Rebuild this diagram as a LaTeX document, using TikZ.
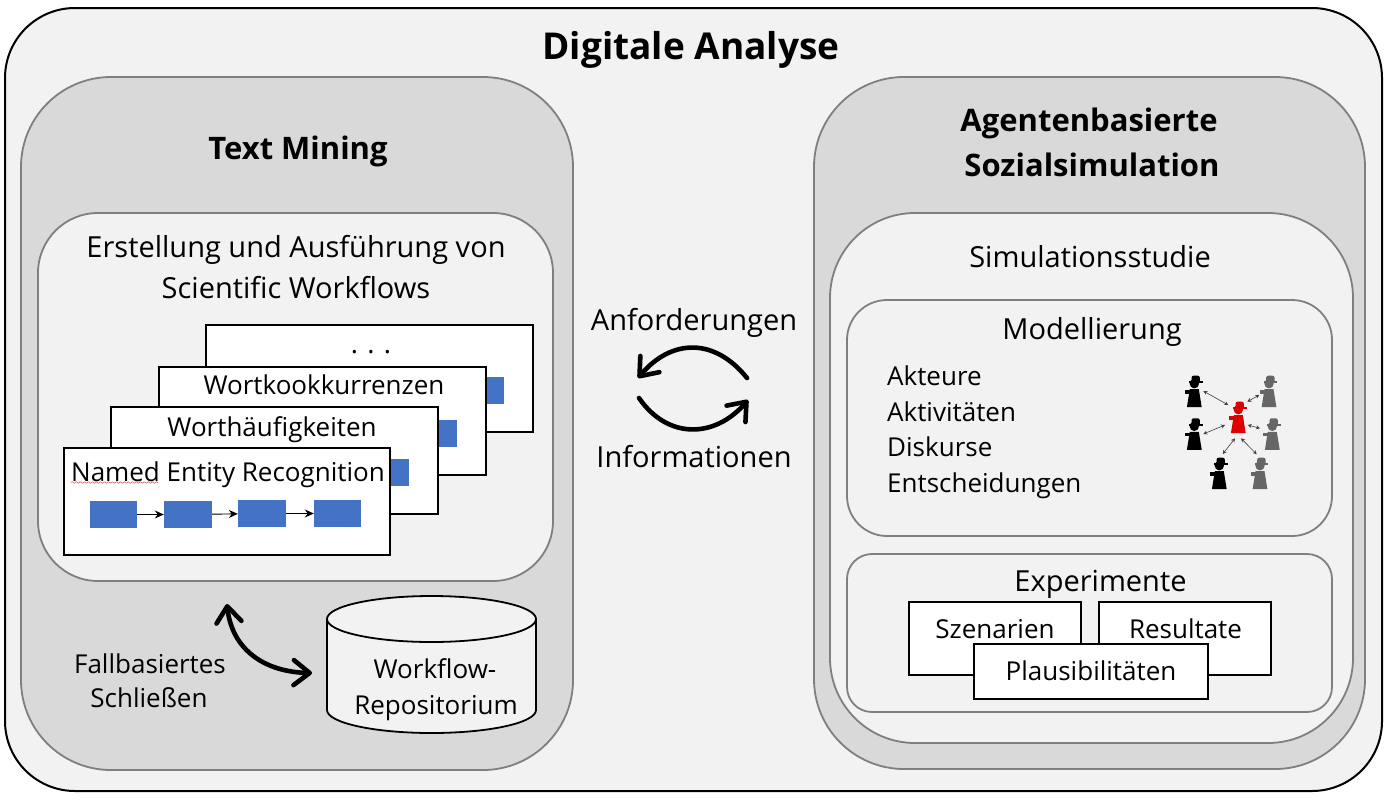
\documentclass[tikz,border=0pt]{standalone}
\usepackage{fontspec}
\setmainfont{Open Sans}
\usetikzlibrary{arrows.meta,decorations.pathmorphing}
\definecolor{panel}{HTML}{F2F2F2}
\definecolor{shade}{HTML}{D9D9D9}
\definecolor{edge}{HTML}{7F7F7F}
\definecolor{bluebar}{HTML}{4472C4}
\definecolor{agentgray}{HTML}{666666}
\definecolor{agentred}{HTML}{DE0000}
\newcommand{\fs}[1]{\fontsize{#1}{#1}\selectfont}
\newcommand{\rbox}[7]{%
  \pgfmathsetmacro{\cxx}{(#2+#4)/2}\pgfmathsetmacro{\cyy}{(#3+#5)/2}%
  \pgfmathsetmacro{\ww}{#4-#2}\pgfmathsetmacro{\hh}{#5-#3}%
  \node[#7,minimum width=\ww pt,minimum height=\hh pt,rounded corners=#6 pt] (#1) at (\cxx,\cyy) {};}
\newcommand{\agentfig}[4]{%
  \begin{scope}[shift={(#2,#3)},fill=#4]
    \node[inner sep=0,minimum width=18pt,minimum height=32pt,anchor=north] (#1) at (0,0) {};
    \fill[rounded corners=2pt] (-2.8,0) rectangle (5.5,7.5);
    \fill (-5,5.5) rectangle (8.3,7.5);
    \fill (0,8) circle (4.7);
    \fill (-4.5,13.5) -- (4.5,13.5) -- (7.4,31.5) -- (-7.4,31.5) -- cycle;
    \fill (-9.3,14.5) rectangle (-3,18);
  \end{scope}}
\tikzset{
  x=1pt,y=-1pt,
  outerbox/.style={draw=black,fill=panel,line width=2pt,inner sep=0,rectangle},
  shadebox/.style={draw=edge,fill=shade,line width=1.8pt,inner sep=0,rectangle},
  panelbox/.style={draw=edge,fill=panel,line width=1.8pt,inner sep=0,rectangle},
  whitebox/.style={draw=black,fill=white,line width=2.4pt,inner sep=0,rectangle},
  thinbox/.style={draw=black,fill=white,line width=2pt,inner sep=0,rectangle},
  bar/.style={fill=bluebar,draw=none,inner sep=0,rectangle},
  lbl/.style={inner sep=0,font=\fs{29},text height=27.75pt,text depth=5.8pt},
  lblsmall/.style={inner sep=0,font=\fs{26},text height=25.5pt,text depth=5.2pt},
  head/.style={inner sep=0,font=\fs{31}\bfseries,text height=29.25pt,text depth=6.2pt},
  bigarrow/.style={line width=4.6pt,line cap=round,-{Straight Barb[length=16pt,width=25pt,line width=4.6pt,round]}},
  dblarrow/.style={line width=4.6pt,line cap=round,{Straight Barb[length=16pt,width=25pt,line width=4.6pt,round]}-{Straight Barb[length=16pt,width=25pt,line width=4.6pt,round]}},
  flow/.style={line width=0.9pt,-{Stealth[length=9pt,width=8pt,inset=3pt]}},
  link/.style={line width=0.6pt,draw=black!75,{Stealth[length=4pt,width=4pt]}-{Stealth[length=4pt,width=4pt]}},
}
\begin{document}
\begin{tikzpicture}
\useasboundingbox (0,0) rectangle (1391,798);
\fill[white] (0,0) rectangle (1391,798);
\rbox{outer}{5}{8}{1382}{791}{70}{outerbox}
\node[inner sep=0,font=\fs{37}\bfseries,text height=33.75pt,text depth=7.4pt] (ttl) at (691,46) {Digitale Analyse};
% Text mining
\rbox{tm}{21}{77}{573}{770}{90}{shadebox}
\node[head] (tmt) at (298,148) {Text Mining};
\rbox{wf}{38}{213}{553}{581}{60}{panelbox}
\node[lbl] (wf1) at (296,247) {Erstellung und Ausführung von};
\node[lbl] (wf2) at (296,288) {Scientific Workflows};
\rbox{c4}{206}{325}{533}{432}{0}{whitebox}
\node[inner sep=0,font=\fs{27},anchor=base] (c4t) at (371,353) {. . .};
\rbox{c4b}{440}{377}{504}{404}{0}{bar}
\rbox{c3}{159}{367}{486}{475}{0}{whitebox}
\node[lblsmall] (c3t) at (324,384) {Wortkookkurrenzen};
\rbox{c3b}{400}{420}{457}{447}{0}{bar}
\rbox{c2}{111}{407}{438}{514}{0}{whitebox}
\node[lblsmall] (c2t) at (272,426) {Worthäufigkeiten};
\rbox{c2b}{360}{459}{409}{486}{0}{bar}
\rbox{c1}{64}{448}{390}{555}{0}{whitebox}
\node[lblsmall] (c1t) at (228,471) {Named Entity Recognition};
\coordinate (sp1) at (71,482.5);
\coordinate (sp2) at (158,482.5);
\draw[red!80,line width=0.5pt,decorate,decoration={snake,amplitude=0.8pt,segment length=4pt}] (sp1) -- (sp2);
\rbox{b1}{90}{501}{137}{528}{0}{bar}
\rbox{b2}{164}{501}{212}{528}{0}{bar}
\rbox{b3}{238}{500}{286}{527}{0}{bar}
\rbox{b4}{314}{500}{361}{527}{0}{bar}
\draw[flow] (b1) -- (b2);
\draw[flow] (b2) -- (b3);
\draw[flow] (b3) -- (b4);
% repository
\draw[draw=black,fill=panel,line width=1.8pt] (327,619) -- (327,710) arc[start angle=180,end angle=360,x radius=104.5,y radius=-23] -- (536,619);
\draw[draw=black,fill=panel,line width=1.8pt] (431.5,619) ellipse[x radius=104.5,y radius=23];
\coordinate (repoL) at (312,673);
\coordinate (wfB) at (227,604);
\node[lblsmall] (r1) at (435,668) {Workflow-};
\node[lblsmall] (r2) at (436,704) {Repositorium};
\draw[dblarrow] (wfB) .. controls (232,650) and (265,672) .. (repoL);
\node[lblsmall] (f1) at (150,663) {Fallbasiertes};
\node[lblsmall] (f2) at (149,697) {Schließen};
% Middle
\node[lbl] (an) at (694,320) {Anforderungen};
\node[lbl] (in) at (694,457) {Informationen};
\coordinate (tA) at (747,378);
\coordinate (tB) at (638,378);
\coordinate (bA) at (639,398);
\coordinate (bB) at (748,400);
\draw[bigarrow] (tA) .. controls (715,338) and (672,338) .. (tB);
\draw[bigarrow] (bA) .. controls (668,440) and (715,438) .. (bB);
% Simulation
\rbox{ab}{814}{77}{1365}{769}{90}{shadebox}
\node[head] (ab1) at (1089,120) {Agentenbasierte};
\node[head] (ab2) at (1092,165) {Sozialsimulation};
\rbox{ss}{830}{213}{1353}{743}{85}{panelbox}
\node[lbl] (sst) at (1090,257) {Simulationsstudie};
\rbox{mo}{847}{300}{1332}{536}{40}{panelbox}
\node[lbl] (mot) at (1092,329) {Modellierung};
\node[lblsmall,anchor=west] (m1) at (887,375) {Akteure};
\node[lblsmall,anchor=west] (m2) at (887,411) {Aktivitäten};
\node[lblsmall,anchor=west] (m3) at (887,446) {Diskurse};
\node[lblsmall,anchor=west] (m4) at (887,482) {Entscheidungen};
\agentfig{p1}{1194.3}{375.7}{black}
\agentfig{p2}{1269}{375.7}{agentgray}
\agentfig{pr}{1238.3}{401.7}{agentred}
\agentfig{p3}{1194.3}{418.3}{black}
\agentfig{p4}{1272.3}{418.3}{agentgray}
\agentfig{p5}{1219.3}{457.7}{black}
\agentfig{p6}{1260}{457.7}{agentgray}
\coordinate (l1a) at (1203.3,391); \coordinate (l1b) at (1228.3,405);
\coordinate (l2a) at (1259.3,395); \coordinate (l2b) at (1247.3,401.7);
\coordinate (l3a) at (1203.3,434); \coordinate (l3b) at (1225,425);
\coordinate (l4a) at (1247.7,425); \coordinate (l4b) at (1260,428.3);
\coordinate (l5a) at (1222.7,454); \coordinate (l5b) at (1235,438.3);
\coordinate (l6a) at (1256.7,454.3); \coordinate (l6b) at (1241,438.3);
\draw[link] (l1a) -- (l1b);
\draw[link] (l2a) -- (l2b);
\draw[link] (l3a) -- (l3b);
\draw[link] (l4a) -- (l4b);
\draw[link] (l5a) -- (l5b);
\draw[link] (l6a) -- (l6b);
\rbox{ex}{847}{554}{1332}{712}{25}{panelbox}
\node[lbl] (ext) at (1100.5,581) {Experimente};
\rbox{sz}{909}{602}{1081}{675}{0}{thinbox}
\rbox{re}{1099}{602}{1271}{675}{0}{thinbox}
\rbox{pl}{974}{644}{1208}{699}{0}{thinbox}
\node[lblsmall] (szt) at (995,628) {Szenarien};
\node[lblsmall] (ret) at (1185.5,628) {Resultate};
\node[lblsmall] (plt) at (1091,670) {Plausibilitäten};
\end{tikzpicture}
\end{document}
